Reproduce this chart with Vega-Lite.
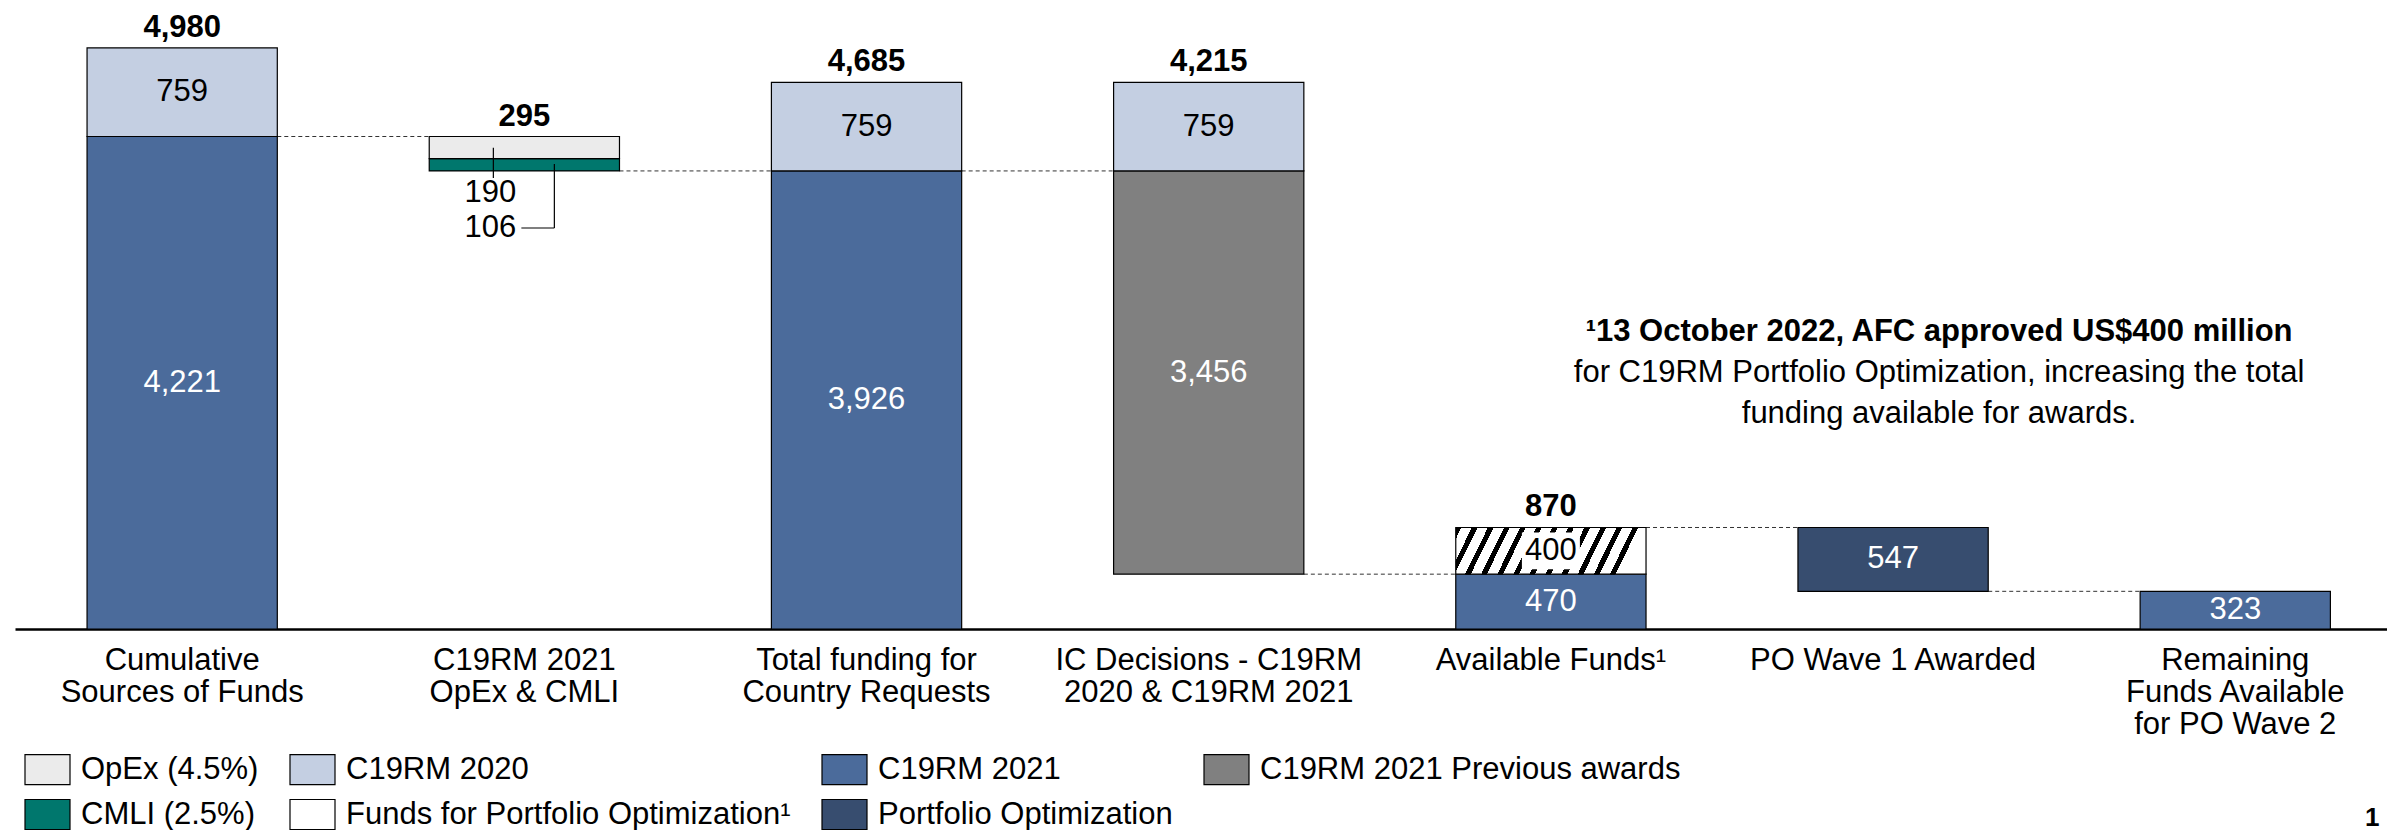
{
  "$schema": "https://vega.github.io/schema/vega-lite/v6.json",
  "width": 2372,
  "height": 629,
  "autosize": {"type": "none"},
  "padding": {"left": 15, "top": 0, "right": 0, "bottom": 201},
  "config": {
    "view": {"stroke": null},
    "font": "Liberation Sans",
    "axisX": {
      "title": null,
      "labelExpr": "split(datum.value, '|')",
      "domain": true,
      "domainColor": "black",
      "domainWidth": 2.5,
      "ticks": false,
      "tickSize": 0,
      "labelFont": "Liberation Sans",
      "labelFontSize": 31,
      "labelColor": "black",
      "labelPadding": 16,
      "labelLineHeight": 32,
      "labelAngle": 0,
      "labelLimit": 0,
      "labelBaseline": "top"
    }
  },
  "datasets": {
    "segs": [
      {"cat": "Cumulative|Sources of Funds", "series": "C19RM 2021", "lo": 0, "hi": 4221, "label": "4,221"},
      {"cat": "Cumulative|Sources of Funds", "series": "C19RM 2020", "lo": 4221, "hi": 4980, "label": "759"},
      {"cat": "C19RM 2021|OpEx & CMLI", "series": "CMLI (2.5%)", "lo": 3926, "hi": 4031, "label": ""},
      {"cat": "C19RM 2021|OpEx & CMLI", "series": "OpEx (4.5%)", "lo": 4031, "hi": 4221, "label": ""},
      {"cat": "Total funding for|Country Requests", "series": "C19RM 2021", "lo": 0, "hi": 3926, "label": "3,926"},
      {"cat": "Total funding for|Country Requests", "series": "C19RM 2020", "lo": 3926, "hi": 4685, "label": "759"},
      {"cat": "IC Decisions - C19RM|2020 & C19RM 2021", "series": "C19RM 2021 Previous awards", "lo": 470, "hi": 3926, "label": "3,456"},
      {"cat": "IC Decisions - C19RM|2020 & C19RM 2021", "series": "C19RM 2020", "lo": 3926, "hi": 4685, "label": "759"},
      {"cat": "Available Funds¹", "series": "C19RM 2021", "lo": 0, "hi": 470, "label": "470"},
      {"cat": "Available Funds¹", "series": "Funds for Portfolio Optimization¹", "lo": 470, "hi": 870, "label": "400"},
      {"cat": "PO Wave 1 Awarded", "series": "Portfolio Optimization", "lo": 323, "hi": 870, "label": "547"},
      {"cat": "Remaining|Funds Available|for PO Wave 2", "series": "C19RM 2021", "lo": 0, "hi": 323, "label": "323"}
    ],
    "totals": [
      {"cat": "Cumulative|Sources of Funds", "top": 4980, "total": "4,980"},
      {"cat": "C19RM 2021|OpEx & CMLI", "top": 4221, "total": "295"},
      {"cat": "Total funding for|Country Requests", "top": 4685, "total": "4,685"},
      {"cat": "IC Decisions - C19RM|2020 & C19RM 2021", "top": 4685, "total": "4,215"},
      {"cat": "Available Funds¹", "top": 870, "total": "870"}
    ],
    "links": [
      {"from": "Cumulative|Sources of Funds", "to": "C19RM 2021|OpEx & CMLI", "level": 4221},
      {"from": "C19RM 2021|OpEx & CMLI", "to": "Total funding for|Country Requests", "level": 3926},
      {"from": "Total funding for|Country Requests", "to": "IC Decisions - C19RM|2020 & C19RM 2021", "level": 3926},
      {"from": "IC Decisions - C19RM|2020 & C19RM 2021", "to": "Available Funds¹", "level": 470},
      {"from": "Available Funds¹", "to": "PO Wave 1 Awarded", "level": 870},
      {"from": "PO Wave 1 Awarded", "to": "Remaining|Funds Available|for PO Wave 2", "level": 323}
    ],
    "one": [{}]
  },
  "layer": [
    {
      "data": {"name": "links"},
      "mark": {"type": "rule", "color": "#333333", "strokeWidth": 1, "strokeDash": [4, 3]},
      "encoding": {
        "x": {"field": "from", "type": "nominal", "bandPosition": 1, "title": null,
              "scale": {"type": "band", "domain": ["Cumulative|Sources of Funds", "C19RM 2021|OpEx & CMLI", "Total funding for|Country Requests", "IC Decisions - C19RM|2020 & C19RM 2021", "Available Funds¹", "PO Wave 1 Awarded", "Remaining|Funds Available|for PO Wave 2"], "paddingInner": 0.444, "paddingOuter": 0.188, "align": 0.56}},
        "x2": {"field": "to", "bandPosition": 0},
        "y": {"field": "level", "type": "quantitative", "axis": null, "scale": {"domain": [0, 5391], "nice": false, "zero": false}}
      }
    },
    {
      "data": {"name": "segs"},
      "transform": [{"filter": "datum.series !== 'Funds for Portfolio Optimization¹'"}],
      "mark": {"type": "bar", "stroke": "black", "strokeWidth": 1.2},
      "encoding": {
        "x": {"field": "cat", "type": "nominal", "sort": null, "title": null,
              "scale": {"type": "band", "domain": ["Cumulative|Sources of Funds", "C19RM 2021|OpEx & CMLI", "Total funding for|Country Requests", "IC Decisions - C19RM|2020 & C19RM 2021", "Available Funds¹", "PO Wave 1 Awarded", "Remaining|Funds Available|for PO Wave 2"], "paddingInner": 0.444, "paddingOuter": 0.188, "align": 0.56}},
        "y": {"field": "lo", "type": "quantitative", "axis": null, "scale": {"domain": [0, 5391], "nice": false, "zero": false}},
        "y2": {"field": "hi"},
        "color": {
          "field": "series", "type": "nominal",
          "scale": {
            "domain": ["OpEx (4.5%)", "CMLI (2.5%)", "C19RM 2020", "Funds for Portfolio Optimization¹", "C19RM 2021", "Portfolio Optimization", "C19RM 2021 Previous awards"],
            "range": ["#EBEBEB", "#00776D", "#C4CFE2", "#FFFFFF", "#4B6B9B", "#374D6F", "#808080"]
          },
          "legend": {
            "title": null, "orient": "none", "legendX": 9, "legendY": 746, "columns": 4,
            "columnPadding": 28, "rowPadding": 4,
            "symbolType": "M-1,-0.667H1V0.667H-1Z", "symbolSize": 2025,
            "symbolStrokeColor": "black", "symbolStrokeWidth": 1.2, "symbolOpacity": 1,
            "labelFont": "Liberation Sans", "labelFontSize": 31, "labelColor": "black",
            "labelOffset": 10, "labelLimit": 0
          }
        }
      }
    },
    {
      "data": {"name": "segs"},
      "transform": [{"filter": "datum.series === 'Funds for Portfolio Optimization¹'"}],
      "mark": {"type": "bar", "stroke": "black", "strokeWidth": 1.2,
        "color": {"gradient": "linear", "x1": 0, "y1": 0, "x2": 1, "y2": 0.12, "stops": [
          {"offset": 0, "color": "black"}, {"offset": 0.0292, "color": "black"}, {"offset": 0.0292, "color": "white"}, {"offset": 0.0833, "color": "white"},
          {"offset": 0.0833, "color": "black"}, {"offset": 0.1125, "color": "black"}, {"offset": 0.1125, "color": "white"}, {"offset": 0.1667, "color": "white"},
          {"offset": 0.1667, "color": "black"}, {"offset": 0.1958, "color": "black"}, {"offset": 0.1958, "color": "white"}, {"offset": 0.25, "color": "white"},
          {"offset": 0.25, "color": "black"}, {"offset": 0.2792, "color": "black"}, {"offset": 0.2792, "color": "white"}, {"offset": 0.3333, "color": "white"},
          {"offset": 0.3333, "color": "black"}, {"offset": 0.3625, "color": "black"}, {"offset": 0.3625, "color": "white"}, {"offset": 0.4167, "color": "white"},
          {"offset": 0.4167, "color": "black"}, {"offset": 0.4458, "color": "black"}, {"offset": 0.4458, "color": "white"}, {"offset": 0.5, "color": "white"},
          {"offset": 0.5, "color": "black"}, {"offset": 0.5292, "color": "black"}, {"offset": 0.5292, "color": "white"}, {"offset": 0.5833, "color": "white"},
          {"offset": 0.5833, "color": "black"}, {"offset": 0.6125, "color": "black"}, {"offset": 0.6125, "color": "white"}, {"offset": 0.6667, "color": "white"},
          {"offset": 0.6667, "color": "black"}, {"offset": 0.6958, "color": "black"}, {"offset": 0.6958, "color": "white"}, {"offset": 0.75, "color": "white"},
          {"offset": 0.75, "color": "black"}, {"offset": 0.7792, "color": "black"}, {"offset": 0.7792, "color": "white"}, {"offset": 0.8333, "color": "white"},
          {"offset": 0.8333, "color": "black"}, {"offset": 0.8625, "color": "black"}, {"offset": 0.8625, "color": "white"}, {"offset": 0.9167, "color": "white"},
          {"offset": 0.9167, "color": "black"}, {"offset": 0.9458, "color": "black"}, {"offset": 0.9458, "color": "white"}, {"offset": 1, "color": "white"}]}},
      "encoding": {
        "x": {"field": "cat", "type": "nominal", "title": null},
        "y": {"field": "lo", "type": "quantitative"},
        "y2": {"field": "hi"}
      }
    },
    {
      "data": {"name": "segs"},
      "transform": [{"filter": "datum.series === 'Funds for Portfolio Optimization¹'"}],
      "mark": {"type": "bar", "color": "white", "width": 58, "yOffset": -5, "y2Offset": 5},
      "encoding": {
        "x": {"field": "cat", "type": "nominal", "title": null},
        "y": {"field": "lo", "type": "quantitative"},
        "y2": {"field": "hi"}
      }
    },
    {
      "data": {"name": "segs"},
      "transform": [{"calculate": "(datum.lo + datum.hi) / 2", "as": "mid"}],
      "mark": {"type": "text", "fontSize": 31, "align": "center", "baseline": "middle"},
      "encoding": {
        "x": {"field": "cat", "type": "nominal", "title": null},
        "y": {"field": "mid", "type": "quantitative"},
        "text": {"field": "label"},
        "color": {"condition": {"test": "datum.series === 'C19RM 2021' || datum.series === 'C19RM 2021 Previous awards' || datum.series === 'Portfolio Optimization'", "value": "white"}, "value": "black"}
      }
    },
    {
      "data": {"name": "totals"},
      "mark": {"type": "text", "fontSize": 31, "fontWeight": "bold", "align": "center", "baseline": "alphabetic", "dy": -11, "color": "black"},
      "encoding": {
        "x": {"field": "cat", "type": "nominal", "title": null},
        "y": {"field": "top", "type": "quantitative"},
        "text": {"field": "total"}
      }
    },
    {
      "data": {"name": "one"},
      "mark": {"type": "rule", "color": "black", "strokeWidth": 1.2, "xOffset": -31},
      "encoding": {
        "x": {"datum": "C19RM 2021|OpEx & CMLI", "type": "nominal"},
        "y": {"datum": 4125, "type": "quantitative"},
        "y2": {"datum": 3866}
      }
    },
    {
      "data": {"name": "one"},
      "mark": {"type": "rule", "color": "black", "strokeWidth": 1.2, "xOffset": 30},
      "encoding": {
        "x": {"datum": "C19RM 2021|OpEx & CMLI", "type": "nominal"},
        "y": {"datum": 3985, "type": "quantitative"},
        "y2": {"datum": 3437}
      }
    },
    {
      "data": {"name": "one"},
      "mark": {"type": "rule", "color": "black", "strokeWidth": 1.2, "xOffset": -3, "x2Offset": 30},
      "encoding": {
        "x": {"datum": "C19RM 2021|OpEx & CMLI", "type": "nominal"},
        "x2": {"datum": "C19RM 2021|OpEx & CMLI"},
        "y": {"datum": 3437, "type": "quantitative"}
      }
    },
    {
      "data": {"name": "one"},
      "mark": {"type": "text", "text": "190", "fontSize": 31, "align": "center", "baseline": "middle", "dx": -34, "color": "black"},
      "encoding": {
        "x": {"datum": "C19RM 2021|OpEx & CMLI", "type": "nominal"},
        "y": {"datum": 3737, "type": "quantitative"}
      }
    },
    {
      "data": {"name": "one"},
      "mark": {"type": "text", "text": "106", "fontSize": 31, "align": "center", "baseline": "middle", "dx": -34, "color": "black"},
      "encoding": {
        "x": {"datum": "C19RM 2021|OpEx & CMLI", "type": "nominal"},
        "y": {"datum": 3437, "type": "quantitative"}
      }
    },
    {
      "data": {"name": "one"},
      "mark": {"type": "text", "text": "¹13 October 2022, AFC approved US$400 million", "fontSize": 31, "fontWeight": "bold", "align": "center", "baseline": "middle", "dx": 46, "color": "black"},
      "encoding": {
        "x": {"datum": "PO Wave 1 Awarded", "type": "nominal"},
        "y": {"datum": 2546, "type": "quantitative"}
      }
    },
    {
      "data": {"name": "one"},
      "mark": {"type": "text", "text": "for C19RM Portfolio Optimization, increasing the total", "fontSize": 31, "align": "center", "baseline": "middle", "dx": 46, "color": "black"},
      "encoding": {
        "x": {"datum": "PO Wave 1 Awarded", "type": "nominal"},
        "y": {"datum": 2194, "type": "quantitative"}
      }
    },
    {
      "data": {"name": "one"},
      "mark": {"type": "text", "text": "funding available for awards.", "fontSize": 31, "align": "center", "baseline": "middle", "dx": 46, "color": "black"},
      "encoding": {
        "x": {"datum": "PO Wave 1 Awarded", "type": "nominal"},
        "y": {"datum": 1843, "type": "quantitative"}
      }
    },
    {
      "data": {"name": "one"},
      "mark": {"type": "text", "text": "1", "fontSize": 26, "fontWeight": "bold", "align": "center", "baseline": "alphabetic", "dx": 137, "color": "black"},
      "encoding": {
        "x": {"datum": "Remaining|Funds Available|for PO Wave 2", "type": "nominal"},
        "y": {"datum": -1690, "type": "quantitative"}
      }
    }
  ]
}
